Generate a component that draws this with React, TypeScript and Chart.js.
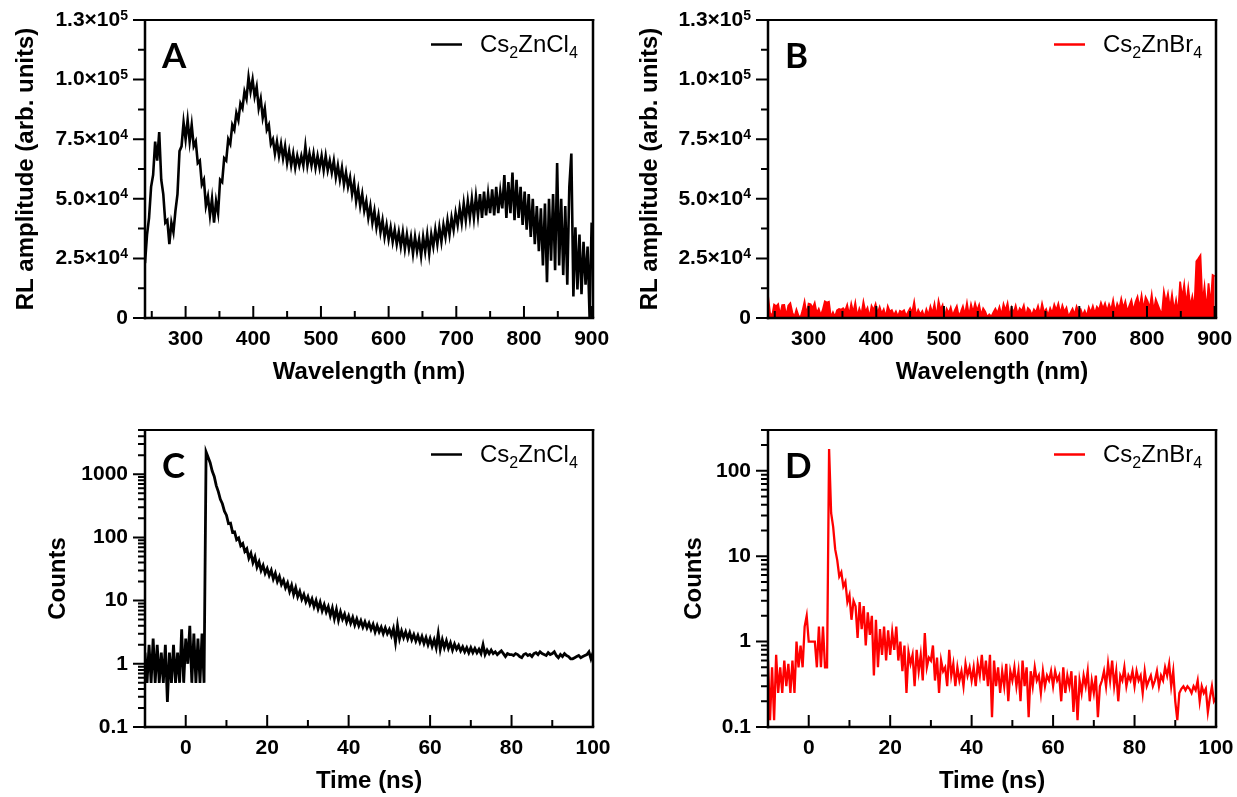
import React, { useEffect, useRef } from 'react';
import { Chart, registerables } from 'chart.js';

Chart.register(...registerables);

// ---------- Radioluminescence spectra (values in units of 10^3 arb. units), sampled every 3 nm from 240 nm ----------
const WL_START = 240;
const WL_STEP = 3;

const rlCs2ZnCl4_k = [
  23, 35, 42, 55, 60, 74, 66, 78, 58, 52, // 240-267
  40, 41, 31, 40, 36, 45, 52, 70, 72, 82, // 270-297
  75, 83, 74, 81, 72, 74, 65, 66, 56, 58, // 300-327
  47, 51, 43, 50, 40, 49, 44, 58, 57, 67, // 330-357
  66, 75, 73, 81, 79, 86, 83, 90, 88, 95, // 360-387
  92, 101, 95, 100, 93, 97, 88, 92, 84, 88, // 390-417
  79, 81, 73, 75, 69, 74, 68, 73, 67, 72, // 420-447
  65, 70, 64, 69, 63, 68, 64, 68, 64, 72, // 450-477
  64, 69, 64, 69, 63, 68, 63, 68, 62, 68, // 480-507
  62, 66, 61, 66, 59, 64, 58, 63, 56, 61, // 510-537
  55, 59, 52, 57, 49, 54, 47, 52, 45, 49, // 540-567
  42, 47, 40, 45, 38, 43, 36, 41, 34, 39, // 570-597
  33, 38, 32, 37, 31, 36, 30, 36, 29, 35, // 600-627
  29, 34, 27, 34, 28, 33, 26, 34, 28, 35, // 630-657
  27, 35, 30, 37, 31, 38, 32, 39, 34, 41, // 660-687
  35, 42, 37, 44, 39, 46, 40, 48, 41, 49, // 690-717
  42, 50, 42, 51, 43, 52, 42, 53, 43, 52, // 720-747
  44, 54, 43, 55, 44, 53, 46, 60, 42, 57, // 750-777
  44, 61, 41, 58, 42, 55, 39, 53, 37, 52, // 780-807
  34, 50, 31, 47, 28, 46, 22, 48, 15, 50, // 810-837
  24, 52, 20, 65, 22, 50, 18, 47, 14, 55, // 840-867
  69, 9, 38, 12, 35, 10, 32, 14, 30, 0, // 870-897
  40, // 900
];

const rlCs2ZnBr4_k = [
  9.5, 2.1, 0.8, 5.6, 4.9, 5.8, 1.2, 5.4, 5.5, 0.9, // 240-267
  5.2, 6.2, 2.3, 0.4, 3.5, 1.0, 0.2, 3.1, 6.9, 1.5, // 270-297
  6.0, 5.8, 4.2, 6.3, 2.0, 3.8, 1.1, 3.5, 7.0, 6.5, // 300-327
  6.8, 0.3, 2.4, 0.5, 3.2, 3.8, 3.5, 4.1, 3.0, 5.5, // 330-357
  1.3, 6.0, 2.2, 6.4, 0.6, 3.9, 1.4, 6.8, 2.5, 4.3, // 360-387
  0.2, 5.1, 3.3, 5.8, 2.0, 4.6, 1.8, 3.6, 0.5, 4.9, // 390-417
  2.7, 3.3, 1.2, 2.8, 0.6, 3.0, 2.5, 3.2, 0.9, 2.6, // 420-447
  4.1, 2.2, 6.7, 0.8, 3.4, 1.5, 2.9, 0.3, 3.6, 1.2, // 450-477
  4.8, 2.0, 5.9, 0.4, 7.2, 3.5, 5.4, 0.2, 3.8, 2.1, // 480-507
  4.5, 1.0, 3.2, 5.0, 0.7, 2.6, 4.9, 1.3, 6.3, 0.9, // 510-537
  5.7, 2.4, 6.1, 3.0, 5.5, 1.1, 4.0, 2.7, 0.4, 1.5, // 540-567
  0.6, 2.3, 3.9, 2.0, 4.6, 1.2, 5.8, 3.1, 6.2, 0.8, // 570-597
  4.4, 2.2, 5.1, 1.6, 4.0, 2.9, 5.3, 0.7, 4.2, 3.3, // 600-627
  1.0, 3.6, 2.4, 5.0, 1.4, 6.0, 2.3, 3.7, 0.9, 4.1, // 630-657
  2.0, 5.6, 3.2, 5.9, 1.8, 5.2, 2.6, 4.3, 0.5, 2.2, // 660-687
  3.9, 1.4, 4.8, 2.5, 3.6, 1.1, 3.0, 0.8, 4.5, 2.3, // 690-717
  5.0, 1.9, 4.7, 3.4, 6.4, 4.0, 6.1, 2.8, 5.7, 3.3, // 720-747
  7.5, 2.4, 6.0, 3.8, 8.0, 4.1, 6.9, 2.6, 5.2, 7.4, // 750-777
  3.0, 6.6, 8.9, 4.2, 9.4, 3.5, 8.7, 7.0, 4.0, 9.8, // 780-807
  2.9, 7.8, 5.5, 3.3, 1.2, 11.0, 6.4, 10.2, 4.0, 9.8, // 810-837
  3.1, 7.5, 2.0, 15.3, 8.2, 14.0, 5.5, 12.6, 4.8, 9.0, // 840-867
  3.6, 23.8, 25.0, 26.3, 6.2, 13.2, 3.0, 14.5, 5.0, 18.0, // 870-897
  17.5, // 900
];

// ---------- Decay curves (counts), sampled every 0.5 ns from -10 ns ----------
const T_START = -10;
const T_STEP = 0.5;

const decayCs2ZnCl4 = [
  1.5, 0.5, 2, 0.5, 2.5, 0.5, 2, 0.5, 1.5, 0.5, // -10 .. -5.5
  2, 0.25, 1.5, 0.5, 2, 0.5, 1.5, 0.5, 3.5, 0.5, // -5 .. -0.5
  2.5, 1, 4, 0.5, 3, 0.5, 2.5, 0.5, 3, 0.5, // 0 .. 4.5
  2250, 1850, 1520, 1120, 920, 660, 530, 400, 340, 260, // 5 .. 9.5
  225, 165, 168, 120, 122, 92, 98, 74, 80, 60, // 10 .. 14.5
  66, 47, 56, 40, 49, 34, 41, 30, 36, 27, // 15 .. 19.5
  32, 25, 30, 22, 27, 20, 24, 18, 21, 16, // 20 .. 24.5
  19, 14, 17.5, 12.5, 16, 11.5, 14, 10.5, 12.5, 9.6, // 25 .. 29.5
  11.5, 8.8, 10.6, 8.0, 10.0, 7.4, 9.4, 6.9, 8.6, 6.6, // 30 .. 34.5
  8.0, 5.8, 7.6, 5.2, 7.2, 4.9, 6.6, 5.1, 6.1, 4.6, // 35 .. 39.5
  5.7, 4.4, 5.4, 4.1, 5.1, 4.0, 4.8, 3.8, 4.6, 3.7, // 40 .. 44.5
  4.4, 3.5, 4.2, 3.2, 4.0, 3.2, 3.8, 3.0, 3.7, 3.0, // 45 .. 49.5
  3.5, 2.8, 3.6, 2.2, 4.0, 2.5, 3.3, 2.6, 3.2, 2.5, // 50 .. 54.5
  3.1, 2.4, 2.9, 2.3, 2.8, 2.2, 2.7, 2.1, 2.6, 2.0, // 55 .. 59.5
  2.5, 1.9, 2.4, 1.8, 3.0, 1.7, 2.4, 1.8, 2.3, 1.75, // 60 .. 64.5
  2.15, 1.65, 2.05, 1.7, 1.95, 1.6, 1.85, 1.55, 1.8, 1.5, // 65 .. 69.5
  1.8, 1.5, 1.75, 1.5, 1.7, 1.45, 2.0, 1.4, 1.65, 1.45, // 70 .. 74.5
  1.65, 1.45, 1.55, 1.4, 1.5, 1.6, 1.45, 1.3, 1.45, 1.4, // 75 .. 79.5
  1.4, 1.35, 1.45, 1.4, 1.3, 1.25, 1.4, 1.45, 1.35, 1.4, // 80 .. 84.5
  1.3, 1.45, 1.5, 1.4, 1.55, 1.45, 1.4, 1.35, 1.5, 1.4, // 85 .. 89.5
  1.45, 1.55, 1.35, 1.25, 1.4, 1.3, 1.45, 1.35, 1.3, 1.2, // 90 .. 94.5
  1.2, 1.25, 1.3, 1.35, 1.25, 1.3, 1.35, 1.4, 1.55, 1.2, // 95 .. 99.5
  1.5, // 100
];

const decayCs2ZnBr4 = [
  0.6, 0.12, 0.5, 0.12, 0.7, 0.25, 0.5, 0.25, 0.6, 0.3, // -10 .. -5.5
  0.55, 0.25, 0.6, 0.25, 1.0, 0.5, 0.9, 0.5, 1.5, 2.0, // -5 .. -0.5
  1.0, 1.0, 1.0, 1.0, 0.5, 1.5, 0.5, 1.5, 0.5, 0.5, // 0 .. 4.5
  180, 32, 22, 12, 9, 5.8, 6.5, 4.4, 5.0, 2.9, // 5 .. 9.5
  3.5, 1.8, 3.0, 2.6, 1.1, 2.9, 1.4, 2.6, 0.9, 2.2, // 10 .. 14.5
  1.2, 2.0, 0.4, 1.8, 0.5, 1.4, 0.7, 1.5, 0.6, 1.35, // 15 .. 19.5
  0.7, 1.3, 0.8, 1.5, 0.6, 1.0, 0.45, 0.9, 0.25, 0.75, // 20 .. 24.5
  0.55, 0.7, 0.3, 0.8, 0.45, 0.7, 0.35, 1.26, 0.5, 0.65, // 25 .. 29.5
  0.6, 0.9, 0.35, 0.65, 0.25, 0.6, 0.45, 0.5, 0.3, 0.8, // 30 .. 34.5
  0.4, 0.55, 0.3, 0.5, 0.35, 0.45, 0.3, 0.55, 0.4, 0.5, // 35 .. 39.5
  0.35, 0.5, 0.3, 0.55, 0.4, 0.7, 0.35, 0.6, 0.3, 0.7, // 40 .. 44.5
  0.13, 0.6, 0.3, 0.5, 0.25, 0.45, 0.3, 0.55, 0.2, 0.45, // 45 .. 49.5
  0.35, 0.5, 0.3, 0.45, 0.2, 0.6, 0.3, 0.5, 0.13, 0.45, // 50 .. 54.5
  0.3, 0.5, 0.35, 0.4, 0.25, 0.45, 0.3, 0.4, 0.35, 0.45, // 55 .. 59.5
  0.3, 0.45, 0.35, 0.4, 0.2, 0.5, 0.25, 0.4, 0.3, 0.45, // 60 .. 64.5
  0.15, 0.4, 0.12, 0.35, 0.25, 0.4, 0.3, 0.45, 0.2, 0.35, // 65 .. 69.5
  0.25, 0.4, 0.13, 0.3, 0.35, 0.45, 0.3, 0.55, 0.35, 0.6, // 70 .. 74.5
  0.3, 0.45, 0.2, 0.4, 0.35, 0.5, 0.3, 0.4, 0.35, 0.45, // 75 .. 79.5
  0.3, 0.45, 0.35, 0.4, 0.25, 0.45, 0.3, 0.35, 0.4, 0.3, // 80 .. 84.5
  0.35, 0.45, 0.3, 0.4, 0.35, 0.5, 0.4, 0.55, 0.3, 0.45, // 85 .. 89.5
  0.2, 0.12, 0.25, 0.28, 0.3, 0.27, 0.3, 0.28, 0.25, 0.3, // 90 .. 94.5
  0.27, 0.35, 0.2, 0.3, 0.25, 0.28, 0.15, 0.22, 0.3, 0.2, // 95 .. 99.5
  0.22, // 100
];

// ---------- Axis ticks and labels ----------
const wavelengthMajorTicks = [300, 400, 500, 600, 700, 800, 900];
const wavelengthLabels = ['300', '400', '500', '600', '700', '800', '900'];
const wavelengthMinorTicks = [250, 350, 450, 550, 650, 750, 850];

const rlMajorTicks_k = [0, 25, 50, 75, 100, 125];
const rlTickMantissa = ['0', '2.5×10', '5.0×10', '7.5×10', '1.0×10', '1.3×10'];
const rlTickExponent = ['', '4', '4', '4', '5', '5'];
const rlMinorTicks_k = [12.5, 37.5, 62.5, 87.5, 112.5];

const timeMajorTicks = [0, 20, 40, 60, 80, 100];
const timeLabels = ['0', '20', '40', '60', '80', '100'];
const timeMinorTicks = [10, 30, 50, 70, 90];

const countsMajorTicksCl = [0.1, 1, 10, 100, 1000];
const countsLabelsCl = ['0.1', '1', '10', '100', '1000'];
const countsMinorTicksCl = [
  0.2, 0.3, 0.4, 0.5, 0.6, 0.7, 0.8, 0.9,
  2, 3, 4, 5, 6, 7, 8, 9,
  20, 30, 40, 50, 60, 70, 80, 90,
  200, 300, 400, 500, 600, 700, 800, 900,
  2000, 3000, 4000, 5000,
];
const countsMajorTicksBr = [0.1, 1, 10, 100];
const countsLabelsBr = ['0.1', '1', '10', '100'];
const countsMinorTicksBr = [
  0.2, 0.3, 0.4, 0.5, 0.6, 0.7, 0.8, 0.9,
  2, 3, 4, 5, 6, 7, 8, 9,
  20, 30, 40, 50, 60, 70, 80, 90,
  200, 300,
];

const formulaCl = ['Cs', '2', 'ZnCl', '4'];
const formulaBr = ['Cs', '2', 'ZnBr', '4'];

// ---------- Styling ----------
const TICK_FONT = 'bold 21px "Liberation Sans", Arial, sans-serif';
const SUP_FONT = 'bold 14px "Liberation Sans", Arial, sans-serif';
const TITLE_FONT = 'bold 24px "Liberation Sans", Arial, sans-serif';
const LETTER_FONT = 'bold 35px Lato, "Open Sans", sans-serif';
const LEGEND_FONT = '24px "Liberation Sans", Arial, sans-serif';
const LEGEND_SUB_FONT = '16px "Liberation Sans", Arial, sans-serif';

interface PanelSpec {
  id: string;
  letter: string;
  pos: { left: number; top: number; width: number; height: number };
  pad: { left: number; top: number; right: number; bottom: number };
  xValues: number[];
  yValues: number[];
  color: string;
  lineWidth: number;
  fill: boolean;
  xMin: number;
  xMax: number;
  yMin: number;
  yMax: number;
  yType: 'linear' | 'logarithmic';
  xMajor: number[];
  xLabels: string[];
  xMinor: number[];
  yMajor: number[];
  yLabels: string[];
  yExp?: string[];
  yMinor: number[];
  xTitle: string;
  yTitle: string;
  yTitleOffset: number;
  formula: string[];
}

const wavelengths = rlCs2ZnCl4_k.map((_, i) => WL_START + i * WL_STEP);
const times = decayCs2ZnCl4.map((_, i) => T_START + i * T_STEP);

const panels: PanelSpec[] = [
  {
    id: 'A', letter: 'A',
    pos: { left: 0, top: 0, width: 618, height: 400 },
    pad: { left: 145, top: 20, right: 25, bottom: 82 },
    xValues: wavelengths, yValues: rlCs2ZnCl4_k, color: '#000000', lineWidth: 2.6, fill: false,
    xMin: 240, xMax: 902, yMin: 0, yMax: 125, yType: 'linear',
    xMajor: wavelengthMajorTicks, xLabels: wavelengthLabels, xMinor: wavelengthMinorTicks,
    yMajor: rlMajorTicks_k, yLabels: rlTickMantissa, yExp: rlTickExponent, yMinor: rlMinorTicks_k,
    xTitle: 'Wavelength (nm)', yTitle: 'RL amplitude (arb. units)', yTitleOffset: 112,
    formula: formulaCl,
  },
  {
    id: 'B', letter: 'B',
    pos: { left: 618, top: 0, width: 619, height: 400 },
    pad: { left: 150, top: 20, right: 21, bottom: 82 },
    xValues: wavelengths, yValues: rlCs2ZnBr4_k, color: '#ff0000', lineWidth: 1.8, fill: true,
    xMin: 240, xMax: 902, yMin: 0, yMax: 125, yType: 'linear',
    xMajor: wavelengthMajorTicks, xLabels: wavelengthLabels, xMinor: wavelengthMinorTicks,
    yMajor: rlMajorTicks_k, yLabels: rlTickMantissa, yExp: rlTickExponent, yMinor: rlMinorTicks_k,
    xTitle: 'Wavelength (nm)', yTitle: 'RL amplitude (arb. units)', yTitleOffset: 111,
    formula: formulaBr,
  },
  {
    id: 'C', letter: 'C',
    pos: { left: 0, top: 400, width: 618, height: 397 },
    pad: { left: 145, top: 30, right: 25, bottom: 70 },
    xValues: times, yValues: decayCs2ZnCl4, color: '#000000', lineWidth: 2.8, fill: false,
    xMin: -10, xMax: 100, yMin: 0.1, yMax: 5000, yType: 'logarithmic',
    xMajor: timeMajorTicks, xLabels: timeLabels, xMinor: timeMinorTicks,
    yMajor: countsMajorTicksCl, yLabels: countsLabelsCl, yMinor: countsMinorTicksCl,
    xTitle: 'Time (ns)', yTitle: 'Counts', yTitleOffset: 80,
    formula: formulaCl,
  },
  {
    id: 'D', letter: 'D',
    pos: { left: 618, top: 400, width: 619, height: 397 },
    pad: { left: 150, top: 30, right: 21, bottom: 70 },
    xValues: times, yValues: decayCs2ZnBr4, color: '#ff0000', lineWidth: 2.3, fill: false,
    xMin: -10, xMax: 100, yMin: 0.1, yMax: 300, yType: 'logarithmic',
    xMajor: timeMajorTicks, xLabels: timeLabels, xMinor: timeMinorTicks,
    yMajor: countsMajorTicksBr, yLabels: countsLabelsBr, yMinor: countsMinorTicksBr,
    xTitle: 'Time (ns)', yTitle: 'Counts', yTitleOffset: 67,
    formula: formulaBr,
  },
];

function makeDecorPlugin(p: PanelSpec) {
  return {
    id: 'panelDecor' + p.id,
    afterDatasetsDraw(chart: any) {
      const ctx: CanvasRenderingContext2D = chart.ctx;
      const xs = chart.scales.x;
      const ys = chart.scales.y;
      const { left, right, top, bottom } = chart.chartArea;
      ctx.save();
      ctx.strokeStyle = '#000';
      ctx.fillStyle = '#000';
      ctx.lineCap = 'butt';

      // frame
      ctx.lineWidth = 2;
      ctx.beginPath();
      ctx.moveTo(left, top);
      ctx.lineTo(right + 1.25, top);
      ctx.stroke();
      ctx.lineWidth = 2.5;
      ctx.beginPath();
      ctx.moveTo(right, top - 1);
      ctx.lineTo(right, bottom);
      ctx.stroke();
      ctx.beginPath();
      ctx.moveTo(left, top - 1);
      ctx.lineTo(left, bottom + 1.25);
      ctx.stroke();
      ctx.beginPath();
      ctx.moveTo(left - 1.25, bottom);
      ctx.lineTo(right + 1.25, bottom);
      ctx.stroke();

      // ticks
      ctx.lineWidth = 2;
      ctx.beginPath();
      p.yMajor.forEach((v) => {
        const y = ys.getPixelForValue(v);
        ctx.moveTo(left - 12, y);
        ctx.lineTo(left, y);
      });
      p.yMinor.forEach((v) => {
        const y = ys.getPixelForValue(v);
        ctx.moveTo(left - 7, y);
        ctx.lineTo(left, y);
      });
      p.xMajor.forEach((v) => {
        const x = xs.getPixelForValue(v);
        ctx.moveTo(x, bottom);
        ctx.lineTo(x, bottom - 12);
      });
      p.xMinor.forEach((v) => {
        const x = xs.getPixelForValue(v);
        ctx.moveTo(x, bottom);
        ctx.lineTo(x, bottom - 7);
      });
      ctx.stroke();

      // x tick labels
      ctx.font = TICK_FONT;
      ctx.textAlign = 'center';
      ctx.textBaseline = 'alphabetic';
      p.xMajor.forEach((v, i) => {
        ctx.fillText(p.xLabels[i], xs.getPixelForValue(v), bottom + 27);
      });

      // y tick labels
      p.yMajor.forEach((v, i) => {
        const y = ys.getPixelForValue(v);
        const exp = p.yExp ? p.yExp[i] : '';
        ctx.font = SUP_FONT;
        const w2 = exp ? ctx.measureText(exp).width : 0;
        ctx.font = TICK_FONT;
        ctx.textAlign = 'right';
        ctx.textBaseline = 'middle';
        ctx.fillText(p.yLabels[i], left - 17 - w2, y);
        if (exp) {
          ctx.font = SUP_FONT;
          ctx.textAlign = 'left';
          ctx.textBaseline = 'alphabetic';
          ctx.fillText(exp, left - 17 - w2, y - 0.5);
        }
      });

      // axis titles
      ctx.font = TITLE_FONT;
      ctx.textAlign = 'center';
      ctx.textBaseline = 'alphabetic';
      ctx.fillText(p.xTitle, (left + right) / 2, bottom + 61);
      ctx.save();
      ctx.translate(left - p.yTitleOffset, (top + bottom) / 2);
      ctx.rotate(-Math.PI / 2);
      ctx.fillText(p.yTitle, 0, 0);
      ctx.restore();

      // panel letter
      ctx.font = LETTER_FONT;
      ctx.textAlign = 'left';
      ctx.fillText(p.letter, left + 17, top + 48);

      // legend
      ctx.strokeStyle = p.color;
      ctx.lineWidth = 2.5;
      ctx.beginPath();
      ctx.moveTo(right - 162, top + 24.5);
      ctx.lineTo(right - 131, top + 24.5);
      ctx.stroke();
      let x = right - 113;
      const base = top + 32;
      p.formula.forEach((part, i) => {
        const sub = i % 2 === 1;
        ctx.font = sub ? LEGEND_SUB_FONT : LEGEND_FONT;
        ctx.fillText(part, x, sub ? base + 6 : base);
        x += ctx.measureText(part).width;
      });

      ctx.restore();
    },
  };
}

function PanelChart({ p }: { p: PanelSpec }) {
  const ref = useRef<HTMLCanvasElement | null>(null);
  useEffect(() => {
    if (!ref.current) return;
    const data = p.xValues.map((x, i) => ({ x, y: p.yValues[i] }));
    const chart = new Chart(ref.current, {
      type: 'line',
      data: {
        datasets: [
          {
            label: p.formula.join(''),
            data,
            borderColor: p.color,
            backgroundColor: p.color,
            borderWidth: p.lineWidth,
            pointRadius: 0,
            tension: 0,
            fill: p.fill ? 'origin' : false,
          },
        ],
      },
      options: {
        animation: false,
        responsive: false,
        maintainAspectRatio: false,
        devicePixelRatio: 1,
        events: [],
        layout: { padding: p.pad },
        plugins: {
          legend: { display: false },
          tooltip: { enabled: false },
        },
        scales: {
          x: { type: 'linear', min: p.xMin, max: p.xMax, display: false },
          y: { type: p.yType, min: p.yMin, max: p.yMax, display: false },
        },
      },
      plugins: [makeDecorPlugin(p)],
    } as any);
    return () => chart.destroy();
  }, [p]);
  return (
    <canvas
      ref={ref}
      width={p.pos.width}
      height={p.pos.height}
      style={{
        position: 'absolute',
        left: p.pos.left,
        top: p.pos.top,
        width: p.pos.width,
        height: p.pos.height,
        display: 'block',
      }}
    />
  );
}

export default function App() {
  return (
    <div
      style={{
        position: 'absolute',
        left: 0,
        top: 0,
        width: 1237,
        height: 797,
        background: '#ffffff',
        overflow: 'hidden',
      }}
    >
      {panels.map((p) => (
        <PanelChart key={p.id} p={p} />
      ))}
    </div>
  );
}
